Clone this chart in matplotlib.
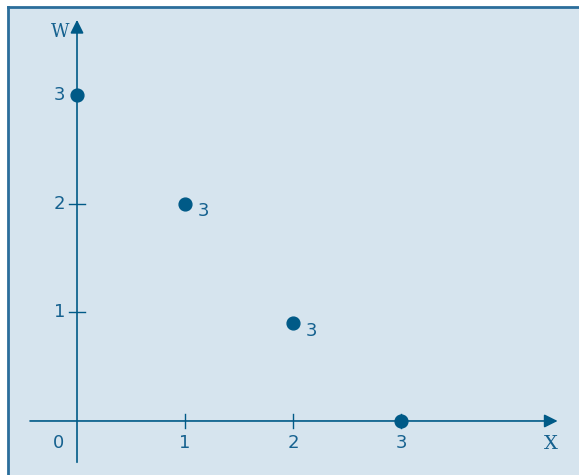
import matplotlib
matplotlib.use("Agg")
import matplotlib.pyplot as plt
from matplotlib.patches import Rectangle

# data
x_vals = [0, 1, 2, 3]
w_vals = [3, 2, 0.9, 0]
point_labels = ["", "3", "3", ""]
x_ticks = [1, 2, 3]
y_ticks = [1, 2, 3]
y_tick_marks = [1, 2]

bg = "#d6e4ee"
dark = "#005a87"
txt = "#15618f"

fig = plt.figure(figsize=(5.79, 4.75), dpi=100)
fig.patch.set_facecolor("white")

# background panel with top/left border
fig.patches.append(Rectangle((8/579, 0), 1, 1 - 7/475, transform=fig.transFigure,
                             facecolor=bg, edgecolor="none", zorder=0))
fig.add_artist(plt.Line2D([8/579, 8/579], [0, 1 - 7/475], transform=fig.transFigure,
                          color="#2b6e9b", lw=2, zorder=0.5))
fig.add_artist(plt.Line2D([8/579, 1], [1 - 7/475, 1 - 7/475], transform=fig.transFigure,
                          color="#2b6e9b", lw=2, zorder=0.5))

ax = fig.add_axes([0, 0, 1, 1])
ax.set_zorder(2)
ax.patch.set_visible(False)
ax.set_xlim(-0.713, 4.648)
ax.set_ylim(-0.497, 3.873)
ax.axis("off")

# axes with arrows
ax.annotate("", xy=(4.45, 0), xytext=(-0.435, 0),
            arrowprops=dict(arrowstyle="-|>", color=dark, lw=1.2, mutation_scale=20,
                            shrinkA=0, shrinkB=0))
ax.annotate("", xy=(0, 3.69), xytext=(0, -0.38),
            arrowprops=dict(arrowstyle="-|>", color=dark, lw=1.2, mutation_scale=20,
                            shrinkA=0, shrinkB=0))

# ticks
for t in x_ticks:
    ax.plot([t, t], [-0.065, 0.065], color=dark, lw=1)
    ax.text(t, -0.2, str(t), color=txt, fontsize=13, ha="center", va="center")
for t in y_tick_marks:
    ax.plot([-0.075, 0.075], [t, t], color=dark, lw=1)
for t in y_ticks:
    ax.text(-0.16, t, str(t), color=txt, fontsize=13, ha="center", va="center")
ax.text(-0.175, -0.2, "0", color=txt, fontsize=13, ha="center", va="center")

ax.text(4.39, -0.21, "X", color=txt, fontsize=14, ha="center", va="center", family="DejaVu Serif")
ax.text(-0.16, 3.58, "W", color=txt, fontsize=13, ha="center", va="center", family="DejaVu Serif")

# points
ax.scatter(x_vals, w_vals, s=85, color=dark, zorder=5, clip_on=False)
for xv, wv, lab in zip(x_vals, w_vals, point_labels):
    if lab:
        ax.text(xv + 0.17, wv - 0.07, lab, color=txt, fontsize=13, ha="center", va="center")

fig.savefig("out.png", dpi=100)
